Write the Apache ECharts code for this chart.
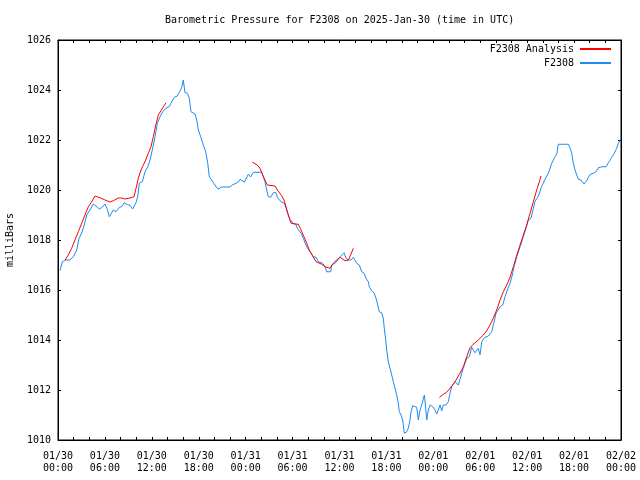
<!DOCTYPE html>
<html>
<head>
<meta charset="utf-8">
<script src="https://cdn.jsdelivr.net/npm/echarts@6/dist/echarts.min.js"></script>
<style>html,body{margin:0;padding:0;background:#fff}#c{width:640px;height:480px}</style>
</head>
<body>
<div id="c"></div>
<script>
// time in hours since 2025-01-30 00:00 UTC
var stationHours = [0.26,0.55,1.02,1.53,1.96,2.39,2.69,3.03,3.36,3.67,4.09,4.51,4.86,5.28,5.63,6.01,6.31,6.56,7.07,7.42,7.84,8.15,8.48,8.91,9.21,9.55,9.94,10.19,10.40,10.78,11.13,11.47,11.77,12.06,12.41,12.70,13.05,13.39,13.81,14.23,14.54,14.87,15.22,15.51,15.82,16.02,16.24,16.54,16.79,17.01,17.52,17.74,17.94,18.25,18.58,18.89,19.15,19.35,19.66,19.99,20.30,20.59,20.81,22.00,22.29,22.76,23.06,23.28,23.53,23.83,24.34,24.64,24.98,26.05,26.26,26.47,26.69,26.90,27.20,27.54,27.84,28.05,28.26,28.52,28.74,28.94,29.16,29.38,29.67,30.09,30.40,30.60,30.82,31.08,31.37,31.81,32.23,32.65,33.00,33.29,33.85,34.15,34.36,34.88,35.00,35.43,35.77,36.07,36.32,36.58,36.83,37.13,37.47,37.77,38.02,38.20,38.37,38.53,38.84,39.14,39.39,39.69,39.81,40.12,40.41,40.67,40.89,41.09,41.40,41.60,41.73,41.91,42.04,42.24,42.46,42.68,42.88,43.10,43.32,43.52,43.65,43.87,44.08,44.29,44.38,44.60,44.80,45.02,45.15,45.36,45.53,45.87,46.08,46.30,46.51,46.72,46.85,47.03,47.15,47.36,47.58,47.92,48.22,48.43,48.64,48.86,49.07,49.28,49.62,49.92,50.13,50.35,50.77,50.99,51.19,51.50,51.83,52.27,52.60,52.91,53.33,53.75,53.97,54.19,54.52,55.03,55.47,55.67,56.02,56.53,56.87,57.17,57.46,57.81,58.10,58.32,58.67,59.09,59.51,59.85,60.15,60.49,60.79,61.00,61.43,61.86,62.28,62.71,63.14,63.56,63.78,63.98,65.26,65.48,65.70,65.90,66.12,66.34,66.54,66.89,67.27,67.62,67.82,68.13,68.46,68.81,69.10,69.54,70.09,70.38,70.82,71.15,71.45,71.66,71.97];
var stationPressure = [1016.77,1017.13,1017.2,1017.2,1017.33,1017.6,1018.07,1018.28,1018.6,1019.0,1019.2,1019.44,1019.36,1019.24,1019.3,1019.44,1019.23,1018.93,1019.2,1019.13,1019.31,1019.33,1019.49,1019.41,1019.39,1019.24,1019.47,1019.73,1020.27,1020.33,1020.73,1020.93,1021.2,1021.6,1022.13,1022.67,1022.93,1023.13,1023.27,1023.33,1023.53,1023.71,1023.75,1023.9,1024.1,1024.4,1023.9,1023.87,1023.67,1023.13,1023.04,1022.8,1022.4,1022.13,1021.8,1021.53,1021.07,1020.53,1020.4,1020.24,1020.09,1020.03,1020.12,1020.12,1020.2,1020.27,1020.32,1020.43,1020.35,1020.32,1020.63,1020.52,1020.71,1020.71,1020.53,1020.33,1020.0,1019.73,1019.71,1019.89,1019.91,1019.71,1019.75,1019.53,1019.6,1019.47,1019.27,1019.07,1018.83,1018.67,1018.64,1018.47,1018.5,1018.27,1018.07,1017.73,1017.53,1017.33,1017.31,1017.13,1017.07,1016.93,1016.73,1016.73,1017.0,1017.07,1017.2,1017.33,1017.25,1017.49,1017.27,1017.2,1017.2,1017.31,1017.36,1017.07,1017.15,1017.0,1016.73,1016.67,1016.47,1016.33,1016.13,1015.97,1015.89,1015.67,1015.4,1015.13,1015.09,1014.87,1014.47,1014.0,1013.6,1013.13,1012.87,1012.6,1012.33,1012.07,1011.8,1011.47,1011.13,1011.0,1010.8,1010.27,1010.2,1010.33,1010.47,1010.8,1011.13,1011.37,1011.31,1011.31,1010.8,1011.2,1011.4,1011.47,1011.8,1011.27,1010.8,1011.2,1011.4,1011.33,1011.2,1011.04,1011.2,1011.4,1011.17,1011.4,1011.4,1011.53,1011.87,1012.13,1012.33,1012.4,1012.2,1012.53,1012.87,1013.27,1013.33,1013.71,1013.49,1013.67,1013.4,1013.93,1014.09,1014.16,1014.33,1014.6,1015.07,1015.33,1015.4,1015.73,1016.0,1016.27,1016.6,1016.93,1017.33,1017.73,1018.13,1018.47,1018.8,1018.87,1019.27,1019.55,1019.75,1020.15,1020.43,1020.67,1021.07,1021.33,1021.43,1021.83,1021.83,1021.67,1021.47,1021.07,1020.8,1020.6,1020.43,1020.4,1020.24,1020.37,1020.51,1020.64,1020.67,1020.73,1020.89,1020.93,1020.93,1021.09,1021.31,1021.47,1021.67,1021.87,1022.03];

var analysis1Hours = [0.90,1.32,1.75,2.17,2.60,3.03,3.45,3.88,4.31,4.73,5.37,6.01,6.65,7.07,7.71,8.15,8.57,9.21,9.72,9.98,10.27,10.62,10.91,11.22,11.55,11.89,12.19,12.50,12.83,13.17,13.47,13.81];
var analysis1Pressure = [1017.2,1017.4,1017.67,1018.0,1018.33,1018.67,1019.0,1019.33,1019.53,1019.76,1019.69,1019.6,1019.52,1019.57,1019.68,1019.68,1019.64,1019.68,1019.73,1020.07,1020.47,1020.8,1021.0,1021.2,1021.47,1021.73,1022.13,1022.6,1023.0,1023.17,1023.33,1023.49];
var analysis2Hours = [24.85,25.49,25.83,26.18,26.47,26.77,27.75,28.05,28.61,28.90,29.16,29.45,29.80,30.31,30.73,31.08,31.46,31.81,32.14,32.57,33.00,33.73,34.15,34.79,35.21,35.64,36.07,36.71,37.13,37.47,37.77];
var analysis2Pressure = [1021.11,1021.0,1020.87,1020.6,1020.4,1020.2,1020.16,1020.0,1019.77,1019.6,1019.33,1019.0,1018.67,1018.64,1018.63,1018.4,1018.13,1017.87,1017.6,1017.36,1017.13,1017.03,1016.93,1016.87,1017.07,1017.2,1017.31,1017.17,1017.2,1017.44,1017.67];
var analysis3Hours = [48.77,49.28,49.71,50.13,50.77,51.41,51.83,52.27,52.69,53.11,53.75,54.39,54.83,55.25,55.67,56.10,56.53,56.95,57.39,57.81,58.23,58.67,59.09,59.51,59.94,60.37,60.79,61.22,61.56,61.77];
var analysis3Pressure = [1011.7,1011.83,1011.91,1012.07,1012.33,1012.67,1012.93,1013.33,1013.69,1013.83,1014.0,1014.2,1014.37,1014.6,1014.87,1015.2,1015.6,1015.93,1016.2,1016.51,1016.93,1017.4,1017.8,1018.2,1018.6,1019.07,1019.53,1020.0,1020.33,1020.56];

var xTickLabels = ['01/30\n00:00','01/30\n06:00','01/30\n12:00','01/30\n18:00','01/31\n00:00','01/31\n06:00','01/31\n12:00','01/31\n18:00','02/01\n00:00','02/01\n06:00','02/01\n12:00','02/01\n18:00','02/02\n00:00'];
var yTickLabels = ['1010','1012','1014','1016','1018','1020','1022','1024','1026'];

var titleText = 'Barometric Pressure for F2308 on 2025-Jan-30 (time in UTC)';
var yName = 'milliBars';
var seriesNames = ['F2308 Analysis', 'F2308'];

function zip(a, b) { return a.map(function (v, i) { return [v, b[i]]; }); }
var stationData = zip(stationHours, stationPressure);
var analysisData = zip(analysis1Hours, analysis1Pressure)
  .concat([[19, null]])
  .concat(zip(analysis2Hours, analysis2Pressure))
  .concat([[43, null]])
  .concat(zip(analysis3Hours, analysis3Pressure));

var FONT = 'DejaVu Sans Mono';
var RED = '#ff0000', BLUE = '#1c8cf0';

var chart = echarts.init(document.getElementById('c'), null, {renderer: 'canvas'});
var tickCommon = {show: true, inside: true, length: 3, lineStyle: {color: '#000', width: 1}};
chart.setOption({
  backgroundColor: '#fff',
  animation: false,
  textStyle: {fontFamily: FONT, color: '#000'},
  title: {
    text: titleText, left: 165, top: 15, padding: 0,
    textStyle: {fontFamily: FONT, fontSize: 10, fontWeight: 'normal', color: '#000'}
  },
  legend: [
    {
      data: [seriesNames[0]], right: 29, top: 44, align: 'right', orient: 'vertical',
      itemWidth: 31, itemHeight: 2, itemGap: 4, icon: 'rect', padding: 0,
      textStyle: {fontFamily: FONT, fontSize: 10, color: '#000', padding: [0, 1, 0, 0]}
    },
    {
      data: [seriesNames[1]], right: 29, top: 58, align: 'right', orient: 'vertical',
      itemWidth: 31, itemHeight: 2, itemGap: 4, icon: 'rect', padding: 0,
      textStyle: {fontFamily: FONT, fontSize: 10, color: '#000', padding: [0, 1, 0, 0]}
    }
  ],
  grid: {left: 58, right: 19, top: 40, bottom: 40, show: true, borderColor: '#000', borderWidth: 1, containLabel: false, outerBoundsMode: 'none'},
  xAxis: [
    {
      type: 'value', min: 0, max: 72, interval: 2, position: 'bottom',
      axisLine: {show: true, onZero: false, lineStyle: {color: '#000', width: 1}},
      axisTick: tickCommon,
      splitLine: {show: false},
      axisLabel: {
        show: true, margin: 10, fontFamily: FONT, fontSize: 10, color: '#000', lineHeight: 12,
        formatter: function (v) { return (v % 6 === 0) ? xTickLabels[v / 6] : ''; }
      }
    },
    {
      type: 'value', min: 0, max: 72, interval: 2, position: 'top',
      axisLine: {show: true, onZero: false, lineStyle: {color: '#000', width: 1}},
      axisTick: tickCommon, splitLine: {show: false}, axisLabel: {show: false}
    }
  ],
  yAxis: [
    {
      type: 'value', min: 1010, max: 1026, interval: 2, position: 'left',
      name: yName, nameLocation: 'middle', nameGap: 43, nameRotate: 90,
      nameTextStyle: {fontFamily: FONT, fontSize: 10, color: '#000'},
      axisLine: {show: true, onZero: false, lineStyle: {color: '#000', width: 1}},
      axisTick: tickCommon, splitLine: {show: false},
      axisLabel: {
        show: true, margin: 7, fontFamily: FONT, fontSize: 10, color: '#000',
        formatter: function (v) { return yTickLabels[Math.round((v - 1010) / 2)]; }
      }
    },
    {
      type: 'value', min: 1010, max: 1026, interval: 2, position: 'right',
      axisLine: {show: true, onZero: false, lineStyle: {color: '#000', width: 1}},
      axisTick: tickCommon, splitLine: {show: false}, axisLabel: {show: false}
    }
  ],
  series: [
    {
      name: seriesNames[0], type: 'line', data: analysisData, showSymbol: false, symbol: 'none',
      connectNulls: false, lineStyle: {color: RED, width: 1}, itemStyle: {color: RED}, z: 3
    },
    {
      name: seriesNames[1], type: 'line', data: stationData, showSymbol: false, symbol: 'none',
      lineStyle: {color: BLUE, width: 1}, itemStyle: {color: BLUE}, z: 2
    }
  ]
});
</script>
</body>
</html>
